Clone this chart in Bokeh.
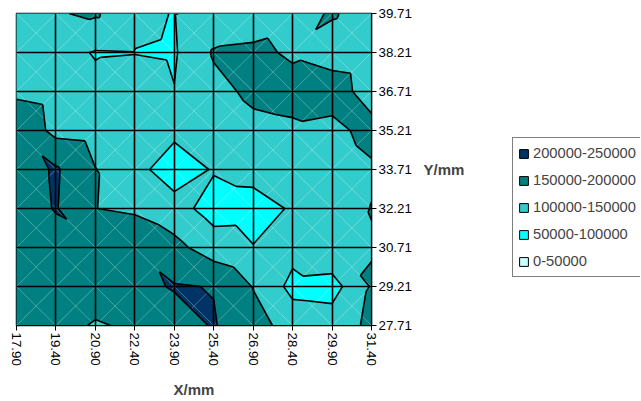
import numpy as np
from bokeh.plotting import figure
from bokeh.layouts import row
from bokeh.models import Range1d, Legend, LegendItem, Label, NumeralTickFormatter, FixedTicker
from bokeh.embed import file_html
from bokeh.resources import INLINE

# ---- data -------------------------------------------------------------
x_mm = [17.90, 19.40, 20.90, 22.40, 23.90, 25.40, 26.90, 28.40, 29.90, 31.40]
y_mm = [27.71, 29.21, 30.71, 32.21, 33.71, 35.21, 36.71, 38.21, 39.71]

# one row of values per Y position (bottom to top), one value per X position
z_y2771 = [170000, 170000, 145000, 158000, 182000, 203000, 170000, 129000, 124800, 159800]
z_y2921 = [180000, 185000, 178000, 189400, 203000, 198500, 148000, 85700, 80500, 154100]
z_y3071 = [149500, 180000, 192000, 195000, 165000, 123500, 101600, 116800, 139600, 147700]
z_y3221 = [175000, 203000, 150500, 141500, 119000, 80000, 82000, 104500, 125000, 151000]
z_y3371 = [175000, 205500, 151000, 115000, 75000, 103600, 115300, 125000, 130000, 145000]
z_y3521 = [189600, 136100, 130000, 120000, 110700, 125000, 139800, 144600, 139200, 162700]
z_y3671 = [140100, 130000, 112000, 121000, 101250, 138500, 158000, 161000, 167600, 133800]
z_y3821 = [125000, 117000, 97000, 98900, 95000, 154000, 157000, 145700, 135000, 130000]
z_y3971 = [125000, 147000, 156000, 110000, 98400, 114400, 130000, 138000, 153000, 136000]

band_low = [0, 50000, 100000, 150000, 200000]
band_high = [50000, 100000, 150000, 200000, 250000]
band_labels = ["0-50000", "50000-100000", "100000-150000", "150000-200000", "200000-250000"]
band_colors = ["#CCFFFF", "#00FFFF", "#33CCCC", "#008080", "#003366"]
levels = [50000, 100000, 150000, 200000]

# ---- contour geometry (triangulated grid, linear interpolation) --------
X = np.array(x_mm)
Y = np.array(y_mm)
Z = np.array([z_y2771, z_y2921, z_y3071, z_y3221, z_y3371,
              z_y3521, z_y3671, z_y3821, z_y3971], dtype=float)


def clip_poly(pts, level, keep_above):
    out = []
    n = len(pts)
    for k in range(n):
        x1, y1, v1 = pts[k]
        x2, y2, v2 = pts[(k + 1) % n]
        in1 = (v1 >= level) if keep_above else (v1 <= level)
        in2 = (v2 >= level) if keep_above else (v2 <= level)
        if in1:
            out.append((x1, y1, v1))
        if in1 != in2:
            t = (level - v1) / (v2 - v1)
            out.append((x1 + t * (x2 - x1), y1 + t * (y2 - y1), level))
    return out


triangles = []
for j in range(len(Y) - 1):
    for i in range(len(X) - 1):
        p00 = (X[i], Y[j], Z[j, i])
        p10 = (X[i + 1], Y[j], Z[j, i + 1])
        p01 = (X[i], Y[j + 1], Z[j + 1, i])
        p11 = (X[i + 1], Y[j + 1], Z[j + 1, i + 1])
        if p00[2] + p11[2] >= p10[2] + p01[2]:
            triangles += [(p00, p10, p11), (p00, p11, p01)]
        else:
            triangles += [(p00, p10, p01), (p10, p11, p01)]

band_xs = [[] for _ in band_low]
band_ys = [[] for _ in band_low]
for tri in triangles:
    for b in range(len(band_low)):
        poly = clip_poly(list(tri), band_low[b], True)
        if len(poly) >= 3:
            poly = clip_poly(poly, band_high[b], False)
        if len(poly) >= 3:
            band_xs[b].append([float(q[0]) for q in poly])
            band_ys[b].append([float(q[1]) for q in poly])

seg_x0, seg_y0, seg_x1, seg_y1 = [], [], [], []
for tri in triangles:
    for L in levels:
        cross = []
        for a, c in ((0, 1), (1, 2), (2, 0)):
            xa, ya, va = tri[a]
            xc, yc, vc = tri[c]
            if (va - L) * (vc - L) < 0:
                t = (L - va) / (vc - va)
                cross.append((xa + t * (xc - xa), ya + t * (yc - ya)))
        if len(cross) == 2:
            seg_x0.append(float(cross[0][0])); seg_y0.append(float(cross[0][1]))
            seg_x1.append(float(cross[1][0])); seg_y1.append(float(cross[1][1]))

FONT = "Liberation Sans"

# ---- main chart ---------------------------------------------------------
W1, H = 420, 400
TOP, BOTTOM = 13, 326          # frame edges (pixels from the top)
p = figure(width=W1, height=H, output_backend="svg", toolbar_location=None,
           x_range=Range1d(x_mm[0], x_mm[-1]), y_range=Range1d(y_mm[0], y_mm[-1]),
           y_axis_location="right",
           min_border_left=16, min_border_top=TOP,
           min_border_right=W1 - 16 - 355, min_border_bottom=H - BOTTOM)
p.background_fill_color = "white"
p.border_fill_color = "white"
p.outline_line_color = "black"
p.outline_line_width = 1.5

for b in range(len(band_low)):
    if band_xs[b]:
        p.patches(band_xs[b], band_ys[b], fill_color=band_colors[b],
                  line_color=band_colors[b], line_width=0.7)

# faint cell diagonals
dx0, dy0, dx1, dy1 = [], [], [], []
for j in range(len(Y) - 1):
    for i in range(len(X) - 1):
        dx0 += [X[i], X[i]]; dy0 += [Y[j], Y[j + 1]]
        dx1 += [X[i + 1], X[i + 1]]; dy1 += [Y[j + 1], Y[j]]
p.segment(x0=[float(v) for v in dx0], y0=[float(v) for v in dy0],
          x1=[float(v) for v in dx1], y1=[float(v) for v in dy1],
          line_color="white", line_alpha=0.35, line_width=0.8)

p.segment(x0=seg_x0, y0=seg_y0, x1=seg_x1, y1=seg_y1,
          line_color="black", line_width=1.6)

for g, ticks in ((p.xgrid, x_mm), (p.ygrid, y_mm)):
    g.ticker = FixedTicker(ticks=ticks)
    g.grid_line_color = "black"
    g.grid_line_width = 1.6
    g.grid_line_alpha = 1.0
    g.level = "annotation"

for ax, ticks in ((p.xaxis[0], x_mm), (p.yaxis[0], y_mm)):
    ax.ticker = FixedTicker(ticks=ticks)
    ax.formatter = NumeralTickFormatter(format="0.00")
    ax.major_tick_out = 5
    ax.major_tick_in = 0
    ax.minor_tick_line_color = None
    ax.axis_line_color = "black"
    ax.axis_line_width = 1.2
    ax.major_tick_line_color = "black"
    ax.major_label_text_font = FONT
    ax.major_label_text_font_size = "13.3px"
    ax.major_label_text_color = "black"
    ax.major_label_standoff = 2
p.xaxis[0].major_label_orientation = "vertical"
p.xaxis[0].axis_label = "X/mm"
p.xaxis[0].axis_label_text_font = FONT
p.xaxis[0].axis_label_text_font_size = "15px"
p.xaxis[0].axis_label_text_font_style = "bold"
p.xaxis[0].axis_label_standoff = 12

# ---- side panel: axis title and legend -------------------------------
# frame spans the same rows as the chart; y data = pixels from the top
W2 = 640 - W1
q = figure(width=W2, height=H, output_backend="svg", toolbar_location=None,
           x_range=Range1d(0, W2), y_range=Range1d(BOTTOM, TOP),
           x_axis_location=None, y_axis_location=None,
           min_border_left=0, min_border_right=0,
           min_border_top=TOP, min_border_bottom=H - BOTTOM)
q.outline_line_color = None
q.background_fill_color = "white"
q.border_fill_color = "white"
q.xgrid.visible = False
q.ygrid.visible = False

q.add_layout(Label(x=423 - W1, y=169, text="Y/mm", text_font=FONT, text_font_size="15px",
                   text_font_style="bold", text_baseline="middle", text_align="left"))

items = []
for b in reversed(range(len(band_low))):
    r = q.quad(left=[-20], right=[-10], top=[-10], bottom=[-20], fill_color=band_colors[b],
               line_color="black", line_width=1)
    items.append(LegendItem(label=band_labels[b], renderers=[r]))
legend = Legend(items=items, location=(512 - W1, BOTTOM - 278))
legend.border_line_color = "black"
legend.border_line_width = 1
legend.background_fill_color = "white"
legend.background_fill_alpha = 1
legend.label_text_font = FONT
legend.label_text_font_size = "14.7px"
legend.glyph_width = 11
legend.glyph_height = 11
legend.label_height = 20
legend.spacing = 7
legend.padding = 5
legend.margin = 0
legend.label_standoff = 4
q.add_layout(legend)

layout = row(p, q, spacing=0)
open("out.html", "w").write(file_html(layout, INLINE))
